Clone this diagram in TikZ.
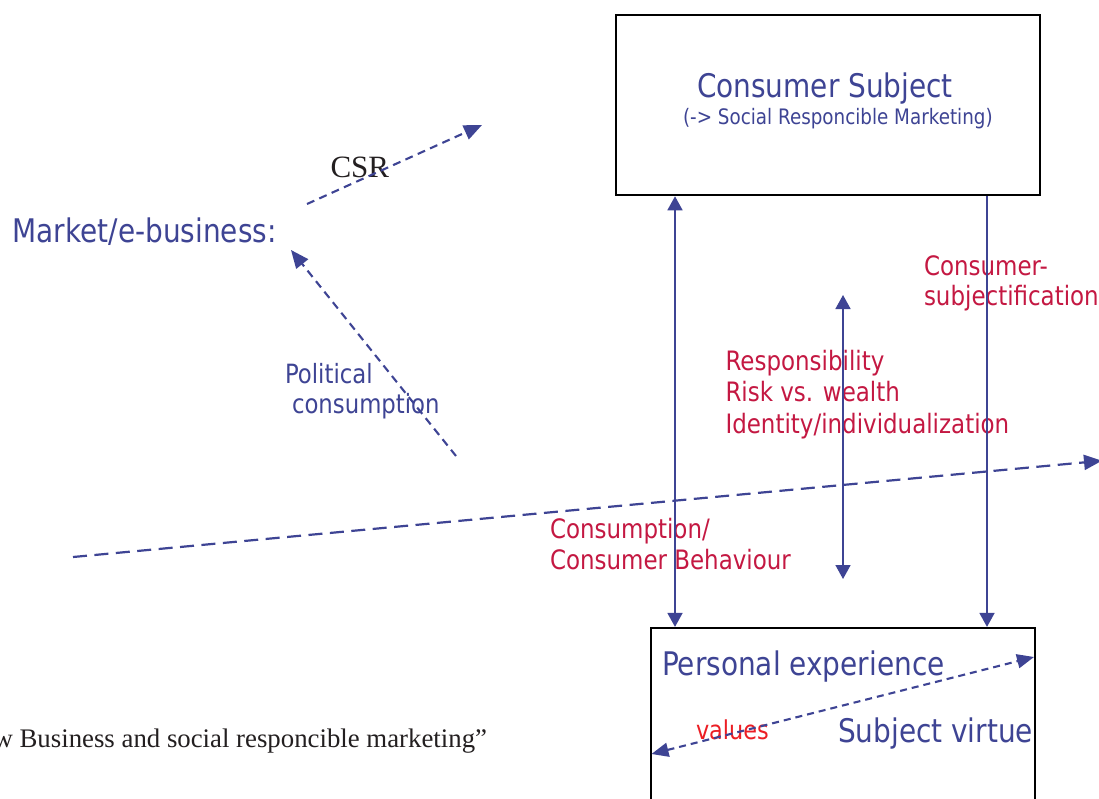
\documentclass[tikz,border=0pt]{standalone}
\usepackage{fontspec}
\newfontfamily\tah[FakeStretch=0.86]{DejaVu Sans}
\newfontfamily\tms{Liberation Serif}
\usetikzlibrary{arrows.meta}
\definecolor{navy}{RGB}{62,68,148}
\definecolor{crim}{RGB}{196,24,66}
\definecolor{redv}{RGB}{236,30,36}
\definecolor{ink}{RGB}{35,31,32}
\begin{document}
\begin{tikzpicture}[x=1pt,y=-1pt,
  txt/.style={inner sep=0pt, outer sep=0pt, anchor=base west},
  bbig/.style={txt, font=\tah\fontsize{32.5}{38}\selectfont, text=navy},
  bsmall/.style={txt, font=\tah\fontsize{21.3}{25}\selectfont, text=navy},
  bmid/.style={txt, font=\tah\fontsize{26.5}{31}\selectfont, text=navy},
  rmid/.style={txt, font=\tah\fontsize{26.7}{31}\selectfont, text=crim},
  vred/.style={txt, font=\tah\fontsize{26}{31}\selectfont, text=redv},
  serif/.style={txt, font=\tms\fontsize{31}{36}\selectfont, text=ink},
  serifsm/.style={txt, font=\tms\fontsize{26.8}{31}\selectfont, text=ink},
  boxa/.style={draw=black, inner sep=0pt},
  solidarrow/.style={draw=navy, line width=1.6pt},
  stip/.style={-{Triangle[length=14pt,width=15pt]}},
  sboth/.style={{Triangle[length=14pt,width=15pt]}-{Triangle[length=14pt,width=15pt]}},
  dashA/.style={draw=navy, line width=2.1pt, dash pattern=on 8pt off 5.5pt},
  dashL/.style={draw=navy, line width=2.2pt, dash pattern=on 14pt off 7.5pt},
  dashV/.style={draw=navy, line width=2.1pt, dash pattern=on 7pt off 5pt},
  dtip/.style={-{Triangle[length=18pt,width=15pt]}},
  dboth/.style={{Triangle[length=17pt,width=14pt]}-{Triangle[length=17pt,width=14pt]}}
]
\useasboundingbox (0,0) rectangle (1099,798);
\fill[white] (0,0) rectangle (1099,798);

% boxes
\node[boxa, line width=2.6pt, minimum width=424pt, minimum height=180pt] (top) at (828,105) {};
\node[boxa, line width=2.2pt, minimum width=384pt, minimum height=240pt] (bot) at (843,748) {};

% texts
\node[bbig] (cs) at (697,97) {Consumer Subject};
\node[bsmall] (srm) at (683,124) {(-> Social Responcible Marketing)};
\node[bbig] (mk) at (12.5,242) {Market/e-business:};
\node[serif] (csr) at (330.5,177) {CSR};
\node[bmid] (pol1) at (285,383) {Political};
\node[bmid] (pol2) at (292,413) {consumption};
\node[rmid] (subj1) at (924,275) {Consumer-};
\node[rmid] (subj2) at (924,305) {subjectification};
\node[rmid] (r1) at (725.5,370) {Responsibility};
\node[rmid] (r2) at (725.5,401.5) {Risk vs. wealth};
\node[rmid] (r3) at (725.5,433) {Identity/individualization};
\node[rmid] (cb1) at (550,538) {Consumption/};
\node[rmid] (cb2) at (550,569) {Consumer Behaviour};
\node[bbig] (pe) at (662,675) {Personal experience};
\node[bbig] (sv) at (838,742) {Subject virtue};
\node[vred] (val) at (696,739) {values};
\node[serifsm, anchor=base east] (quote) at (487,747) {w Business and social responcible marketing”};

% free ends
\coordinate (m1) at (843,295);
\coordinate (m2) at (843,579);
\coordinate (l1) at (73,557);
\coordinate (l2) at (1102,460.7);
\coordinate (c1) at (307,204);
\coordinate (c2) at (482,125);
\coordinate (p1) at (456,456);
\coordinate (p2) at (291,250);
\coordinate (v1) at (651.5,754);
\coordinate (v2) at (1034,657);

% connectors
\draw[solidarrow, sboth] (675,0 |- top.south) -- (675,0 |- bot.north);
\draw[solidarrow, stip] (987,0 |- top.south) -- (987,0 |- bot.north);
\draw[solidarrow, sboth] (m1) -- (m2);
\draw[dashL, dtip] (l1) -- (l2);
\draw[dashA, dtip] (c1) -- (c2);
\draw[dashA, dtip] (p1) -- (p2);
\draw[dashV, dboth] (v1) -- (v2);
\end{tikzpicture}
\end{document}
